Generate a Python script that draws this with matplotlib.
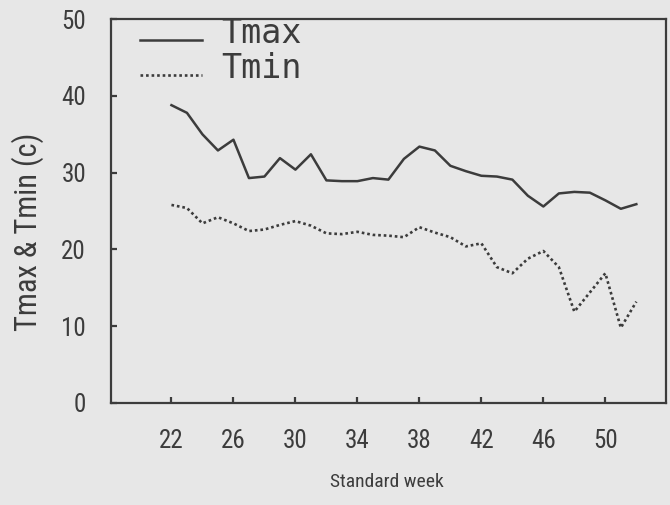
import matplotlib
matplotlib.use("Agg")
import matplotlib.pyplot as plt

# weekly mean temperatures, standard weeks 22-52
weeks = list(range(22, 53))
tmax = [38.8, 37.8, 35.0, 32.9, 34.3, 29.3, 29.5, 31.9, 30.4, 32.4, 29.0,
        28.9, 28.9, 29.3, 29.1, 31.8, 33.4, 32.9, 30.9, 30.2, 29.6, 29.5,
        29.1, 27.0, 25.6, 27.3, 27.5, 27.4, 26.4, 25.3, 25.9]
tmin = [25.8, 25.4, 23.4, 24.2, 23.4, 22.4, 22.6, 23.2, 23.7, 23.1, 22.1,
        22.0, 22.3, 21.9, 21.8, 21.6, 22.9, 22.2, 21.6, 20.4, 20.8, 17.7,
        16.9, 18.8, 19.8, 17.7, 11.9, 14.4, 16.9, 9.8, 13.2]
xticks = [22, 26, 30, 34, 38, 42, 46, 50]
yticks = [0, 10, 20, 30, 40, 50]

paper = "#e7e7e7"
ink = "#3c3c3c"
narrow = ["Roboto Condensed", "DejaVu Sans"]

fig = plt.figure(figsize=(6.7, 5.05), dpi=100, facecolor=paper)
ax = fig.add_axes((0.1657, 0.202, 0.828, 0.76))
ax.set_facecolor(paper)

ax.plot(weeks, tmax, color=ink, lw=1.8, label="Tmax")
ax.plot(weeks, tmin, color=ink, lw=1.9, linestyle=(0, (1, 1.1)), label="Tmin")

ax.set_xlim(18.1, 53.9)
ax.set_ylim(0, 50)
ax.set_xticks(xticks)
ax.set_yticks(yticks)
ax.tick_params(direction="in", length=4, width=1.6, color=ink,
               labelcolor=ink, labelsize=18)
ax.tick_params(axis="x", pad=19)
ax.tick_params(axis="y", pad=18)
for lab in ax.get_xticklabels() + ax.get_yticklabels():
    lab.set_family(narrow)

for sp in ax.spines.values():
    sp.set_color(ink)
    sp.set_linewidth(1.6)

ax.set_xlabel("Standard week", fontsize=14, color=ink, family=narrow)
ax.xaxis.set_label_coords(0.497, -0.206)
ax.xaxis.label.set_va("center")
ax.set_ylabel("Tmax & Tmin (c)", fontsize=22, color=ink, family=narrow)
ax.yaxis.set_label_coords(-0.1495, 0.445)
ax.yaxis.label.set_va("center")

leg = ax.legend(loc="upper left", bbox_to_anchor=(0.052, 1.005), frameon=False,
                prop={"family": "DejaVu Sans Mono", "size": 24},
                handlelength=1.85, handleheight=-1, handletextpad=0.6,
                labelspacing=0.05, borderpad=0, borderaxespad=0)
for t in leg.get_texts():
    t.set_color(ink)

fig.savefig("out.png", dpi=100, facecolor=paper)
